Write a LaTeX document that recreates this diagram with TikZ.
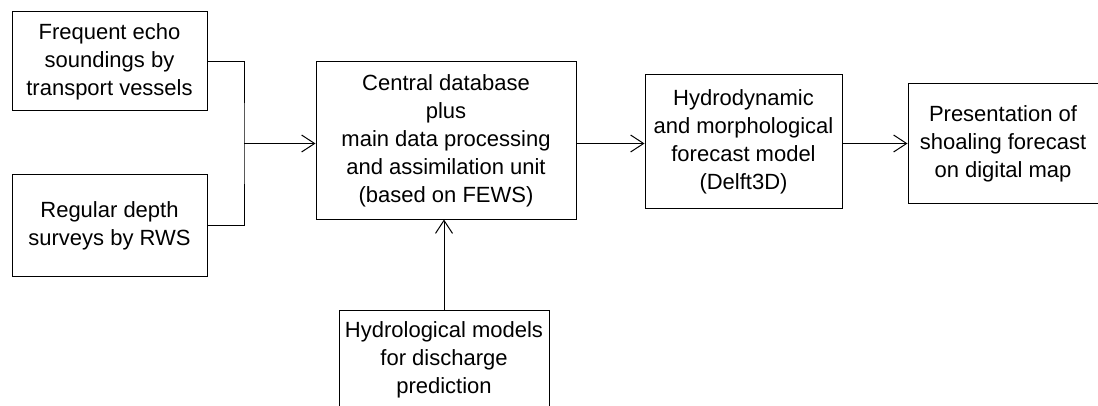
\documentclass[tikz,border=0pt]{standalone}
\usepackage{fontspec}
\setmainfont{Liberation Sans}
\usetikzlibrary{arrows.meta,positioning}

\begin{document}
\begin{tikzpicture}[x=1pt,y=1pt]
	\tikzstyle{unit} = [rectangle,draw,line width=1pt,align=center,inner sep=0pt,font=\fontsize{22}{28}\selectfont]
	\tikzstyle{flow} = [-{Straight Barb[length=13pt,width=17pt,line width=1pt]},line width=1pt]
	\useasboundingbox (0,0) rectangle (1098,405);
		
		\node[unit,minimum width=195pt,minimum height=99pt] (echo) at (109.5,343.5){Frequent echo\\soundings by\\transport vessels};
		\node[unit,minimum width=195pt,minimum height=101pt,below=63pt of echo] (depth){Regular depth\\surveys by RWS};
		\node[unit,minimum width=260pt,minimum height=157pt] (central) at (446,264.5){Central database\\plus\\main data processing\\and assimilation unit\\(based on FEWS)};
		\node[unit,minimum width=197pt,minimum height=133pt,anchor=west] (hydro) at ([xshift=68pt,yshift=-1pt]central.east){Hydrodynamic\\and morphological\\forecast model\\(Delft3D)};
		\node[unit,minimum width=190pt,minimum height=119pt,anchor=west] (present) at ([xshift=65pt,yshift=-2pt]hydro.east){Presentation of\\shoaling forecast\\on digital map};
		\node[unit,minimum width=210pt,minimum height=100pt] (hydrol) at (444,45){Hydrological models\\for discharge\\prediction};
		
		\coordinate (join) at (244,261.5);
		\draw[line width=1pt] (echo.east) -| (join) |- (depth.east);
		\draw[flow] (join) -- (join -| central.west);
		\draw[flow] (central.east |- join) -- (hydro.west |- join);
		\draw[flow] (hydro.east |- join) -- (present.west |- join);
		\draw[flow] (hydrol.north) -- (hydrol.north |- central.south);
		
\end{tikzpicture}
\end{document}
